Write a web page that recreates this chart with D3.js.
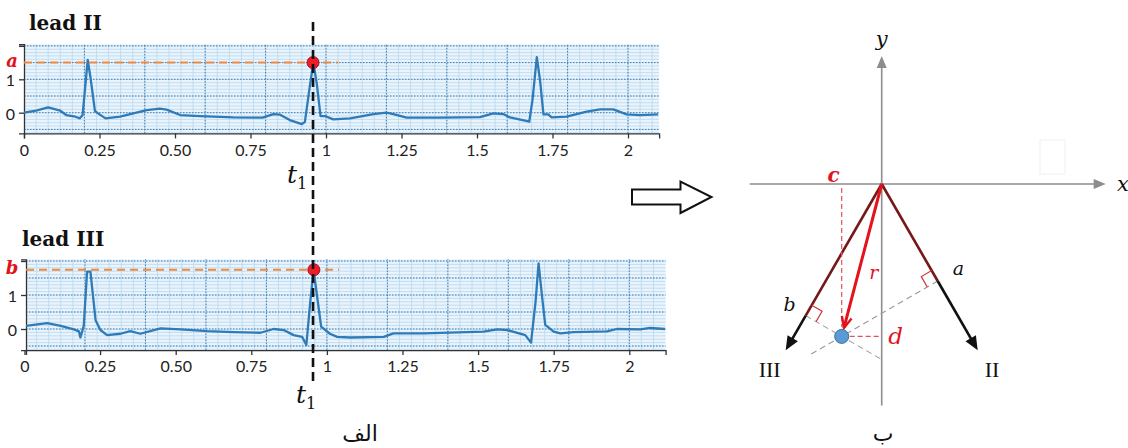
<!DOCTYPE html>
<html>
<head>
<meta charset="utf-8">
<script src="https://cdn.jsdelivr.net/npm/d3@7"></script>
<style>
  body { margin: 0; background: #fff; }
  svg { display: block; }
</style>
</head>
<body>
<svg id="fig" width="1128" height="448"></svg>
<script>
// ---- data ----
const timeTicks = [0, 0.25, 0.5, 0.75, 1, 1.25, 1.5, 1.75, 2];
const timeTickLabels = ["0", "0.25", "0.50", "0.75", "1", "1.25", "1.5", "1.75", "2"];
const voltTicks = [0, 1, 2];
const voltTickLabels = ["0", "1", ""];

const leadIITime = [0, 0.04, 0.08, 0.12, 0.14, 0.17, 0.185, 0.194, 0.211, 0.221, 0.235, 0.245, 0.27, 0.318,
  0.362, 0.406, 0.45, 0.472, 0.517, 0.583, 0.693, 0.79, 0.826, 0.848, 0.88, 0.92, 0.93, 0.945, 0.958,
  0.969, 0.982, 0.997, 1.024, 1.08, 1.157, 1.2, 1.223, 1.267, 1.377, 1.51, 1.554, 1.587, 1.609, 1.659,
  1.673, 1.684, 1.698, 1.709, 1.72, 1.736, 1.747, 1.797, 1.863, 1.907, 1.951, 1.996, 2.04, 2.1];
const leadIIVolt = [0, 0.06, 0.16, 0.06, -0.07, -0.12, -0.17, -0.07, 1.58, 1.0, 0.05, -0.02, -0.17, -0.12,
  -0.02, 0.08, 0.12, 0.09, -0.07, -0.1, -0.14, -0.15, -0.04, -0.06, -0.22, -0.34, -0.28, 0.7, 1.5,
  0.9, -0.1, -0.1, -0.2, -0.17, -0.04, 0, -0.04, -0.15, -0.15, -0.13, -0.02, -0.04, -0.14, -0.24,
  -0.27, 0.4, 1.66, 0.95, -0.05, -0.05, -0.14, -0.12, 0.03, 0.1, 0.1, -0.05, -0.07, -0.05];

const leadIIITime = [0.005, 0.075, 0.12, 0.163, 0.18, 0.185, 0.196, 0.207, 0.218, 0.235, 0.251, 0.273, 0.317,
  0.35, 0.383, 0.45, 0.516, 0.604, 0.692, 0.78, 0.824, 0.857, 0.89, 0.918, 0.932, 0.945, 0.956, 0.967,
  0.981, 1.01, 1.034, 1.078, 1.188, 1.22, 1.32, 1.518, 1.563, 1.596, 1.656, 1.675, 1.69, 1.7, 1.711,
  1.722, 1.75, 1.772, 1.816, 1.926, 1.959, 2.036, 2.069, 2.118];
const leadIIIVolt = [0.09, 0.17, 0.09, -0.01, -0.07, -0.25, 0.1, 1.69, 1.69, 0.26, -0.03, -0.18, -0.14,
  -0.06, -0.14, 0.02, -0.01, -0.06, -0.09, -0.11, 0, -0.03, -0.18, -0.23, -0.47, 0.8, 1.74, 1.0,
  0.07, -0.14, -0.23, -0.25, -0.23, -0.13, -0.13, -0.08, -0.01, -0.03, -0.18, -0.4, 0.8, 1.93, 1.0,
  0.12, -0.08, -0.13, -0.09, -0.07, 0, -0.01, 0.03, 0];

const t1 = 0.957;      // sampled instant
const peakA = 1.5;     // lead II value at t1
const peakB = 1.74;    // lead III value at t1

// vector diagram (own units)
const leadNames = ["II", "III"];
const leadAngles = [60, 120];     // degrees, y pointing down
const projections = [1.4, 1.9];   // a, b as drawn
const leadLength = 2.4;

const svg = d3.select("#fig");
const serif = "'DejaVu Serif', 'Liberation Serif', serif";
const sans = "Lato, 'Noto Sans', sans-serif";

// ---- ECG strip ----
function drawStrip(cfg) {
  const x = d3.scaleLinear().domain([0, 2]).range(cfg.xRange);
  const y = d3.scaleLinear().domain([0, 1]).range(cfg.yRange);
  const [tA, tB] = cfg.tSpan, [vA, vB] = cfg.vSpan;
  const g = svg.append("g");

  g.append("rect")
    .attr("x", x(tA)).attr("y", y(vB))
    .attr("width", x(tB) - x(tA)).attr("height", y(vA) - y(vB))
    .attr("fill", "#eaf4fc");

  const minorT = d3.range(0.04, tB, 0.04);
  const minorV = d3.range(-0.6, vB, 0.1);
  g.selectAll(".mt").data(minorT).join("line")
    .attr("x1", d => x(d)).attr("x2", d => x(d))
    .attr("y1", y(vA)).attr("y2", y(vB))
    .attr("stroke", "#b8d8ef").attr("stroke-width", 0.8);
  g.selectAll(".mv").data(minorV).join("line")
    .attr("x1", x(tA)).attr("x2", x(tB))
    .attr("y1", d => y(d)).attr("y2", d => y(d))
    .attr("stroke", "#b8d8ef").attr("stroke-width", 0.8);

  const majorT = d3.range(0.2, tB, 0.2);
  const majorV = d3.range(-0.5, vB + 0.01, 0.5);
  g.selectAll(".Mt").data(majorT).join("line")
    .attr("x1", d => x(d)).attr("x2", d => x(d))
    .attr("y1", y(vA)).attr("y2", y(vB))
    .attr("stroke", "#3f7db3").attr("stroke-width", 1).attr("stroke-dasharray", "1.5,1.5");
  g.selectAll(".Mv").data(majorV).join("line")
    .attr("x1", x(tA)).attr("x2", x(tB))
    .attr("y1", d => y(d)).attr("y2", d => y(d))
    .attr("stroke", "#3f7db3").attr("stroke-width", 1).attr("stroke-dasharray", "1.5,1.5");

  // axes
  const xAxisScale = d3.scaleLinear().domain([tA, tB]).range([x(tA), x(tB)]);
  const yAxisScale = d3.scaleLinear().domain([vA, vB]).range([y(vA), y(vB)]);
  const xa = g.append("g")
    .attr("transform", `translate(0,${y(vA)})`)
    .call(d3.axisBottom(xAxisScale).tickValues(timeTicks)
      .tickFormat((d, i) => timeTickLabels[i]).tickSizeOuter(0).tickSize(5).tickPadding(6));
  const ya = g.append("g")
    .attr("transform", `translate(${x(tA)},0)`)
    .call(d3.axisLeft(yAxisScale).tickValues(voltTicks)
      .tickFormat((d, i) => voltTickLabels[i]).tickSizeOuter(0).tickSize(5).tickPadding(4));
  [xa, ya].forEach(a => {
    a.selectAll("path, line").attr("stroke", "#333").attr("stroke-width", 1.3);
    a.selectAll("text").attr("font-family", sans).attr("font-size", 16).attr("fill", "#222");
  });
  ya.selectAll("text").attr("dy", "0.4em");

  // signal
  const pts = cfg.time.map((t, i) => [t, cfg.volt[i]]);
  g.append("path").datum(pts)
    .attr("fill", "none").attr("stroke", "#2f7bb8").attr("stroke-width", 2.3)
    .attr("stroke-linejoin", "round")
    .attr("d", d3.line().x(d => x(d[0])).y(d => y(d[1])));

  // level at t1
  g.append("line")
    .attr("x1", x(tA)).attr("x2", x(1.04))
    .attr("y1", y(cfg.peak)).attr("y2", y(cfg.peak))
    .attr("stroke", "#f08a3c").attr("stroke-width", 2).attr("stroke-dasharray", "8,5");
  g.append("circle")
    .attr("cx", x(t1)).attr("cy", y(cfg.peak)).attr("r", 6)
    .attr("fill", "#ee1c25").attr("stroke", "#9c1030").attr("stroke-width", 1);
  g.append("text")
    .attr("x", 12).attr("y", y(cfg.peak) + 4)
    .attr("text-anchor", "middle")
    .attr("font-family", serif).attr("font-style", "italic").attr("font-weight", "bold")
    .attr("font-size", 18).attr("fill", "#e0141c")
    .text(cfg.peakLabel);

  g.append("text")
    .attr("x", cfg.titleX).attr("y", cfg.titleY)
    .attr("font-family", serif).attr("font-weight", "bold").attr("font-size", 20)
    .attr("fill", "#111")
    .text(cfg.title);
  return x;
}

const xTop = drawStrip({
  xRange: [24, 628], yRange: [112.7, 79.3], tSpan: [0, 2.103], vSpan: [-0.62, 2.05],
  time: leadIITime, volt: leadIIVolt, peak: peakA, peakLabel: "a",
  title: "lead II", titleX: 29, titleY: 30
});
drawStrip({
  xRange: [24.5, 629.3], yRange: [329, 295], tSpan: [0.005, 2.12], vSpan: [-0.62, 2.05],
  time: leadIIITime, volt: leadIIIVolt, peak: peakB, peakLabel: "b",
  title: "lead III", titleX: 22, titleY: 246
});

// t1 marker
svg.append("line")
  .attr("x1", xTop(t1)).attr("x2", xTop(t1))
  .attr("y1", 22).attr("y2", 385)
  .attr("stroke", "#111").attr("stroke-width", 2.6).attr("stroke-dasharray", "9,5");
function tLabel(xp, yp) {
  const t = svg.append("text").attr("x", xp).attr("y", yp)
    .attr("font-family", serif).attr("fill", "#111");
  t.append("tspan").attr("font-style", "italic").attr("font-size", 25).text("t");
  t.append("tspan").attr("font-size", 16).attr("dy", 6).text("1");
}
tLabel(287, 183);
tLabel(296, 403);

// panel captions
svg.append("text").attr("x", 360).attr("y", 441).attr("text-anchor", "middle")
  .attr("font-family", "'DejaVu Sans', sans-serif").attr("font-size", 22).attr("fill", "#111")
  .text("الف");
svg.append("text").attr("x", 883).attr("y", 441).attr("text-anchor", "middle")
  .attr("font-family", "'DejaVu Sans', sans-serif").attr("font-size", 22).attr("fill", "#111")
  .text("ب");

// hollow arrow between panels
svg.append("path")
  .attr("d", "M632,189.5 L680.5,189.5 L680.5,181.5 L711.5,197 L680.5,213 L680.5,204.5 L632,204.5 Z")
  .attr("fill", "#fff").attr("stroke", "#111").attr("stroke-width", 2).attr("stroke-linejoin", "miter");

// ---- vector diagram ----
const k = 80;
const vx = d3.scaleLinear().domain([0, 1]).range([881.7, 881.7 + k]);
const vy = d3.scaleLinear().domain([0, 1]).range([184, 184 + k]);
const dg = svg.append("g");

function arrowHead(g, x0, y0, x1, y1, len, half, color, filled) {
  const ang = Math.atan2(y1 - y0, x1 - x0);
  const bx = x1 - len * Math.cos(ang), by = y1 - len * Math.sin(ang);
  const px = -Math.sin(ang) * half, py = Math.cos(ang) * half;
  if (filled) {
    g.append("path").attr("d", `M${x1},${y1} L${bx + px},${by + py} L${bx - px},${by - py} Z`)
      .attr("fill", color);
  } else {
    g.append("path").attr("d", `M${bx + px},${by + py} L${x1},${y1} L${bx - px},${by - py}`)
      .attr("fill", "none").attr("stroke", color).attr("stroke-width", 2.4);
  }
}

// coordinate axes
dg.append("line").attr("x1", vx(-1.65)).attr("x2", vx(2.66)).attr("y1", vy(0)).attr("y2", vy(0))
  .attr("stroke", "#8d8d8d").attr("stroke-width", 1.6);
arrowHead(dg, vx(0), vy(0), vx(2.8), vy(0), 12, 5, "#8d8d8d", true);
dg.append("line").attr("x1", vx(0)).attr("x2", vx(0)).attr("y1", vy(2.77)).attr("y2", vy(-1.45))
  .attr("stroke", "#8d8d8d").attr("stroke-width", 1.6);
arrowHead(dg, vx(0), vy(0), vx(0), vy(-1.6), 12, 5, "#8d8d8d", true);
dg.append("text").attr("x", vx(0)).attr("y", 46).attr("text-anchor", "middle")
  .attr("font-family", serif).attr("font-style", "italic").attr("font-size", 21).attr("fill", "#111").text("y");
dg.append("text").attr("x", 1123).attr("y", 191).attr("text-anchor", "middle")
  .attr("font-family", serif).attr("font-style", "italic").attr("font-size", 21).attr("fill", "#111").text("x");
dg.append("rect").attr("x", 1040).attr("y", 140).attr("width", 25).attr("height", 34)
  .attr("fill", "none").attr("stroke", "#f0f0f0").attr("stroke-width", 1);

// resultant vector from the two projections
const u = leadAngles.map(a => [Math.cos(a * Math.PI / 180), Math.sin(a * Math.PI / 180)]);
const rx = projections[0] - projections[1];
const ry = (projections[0] + projections[1]) / (2 * Math.sin(60 * Math.PI / 180));

// projection construction lines (foot on the lead, through the tip of r, a bit beyond)
const overshoot = [0.45, 0.6];
leadNames.forEach((name, i) => {
  const p = [projections[i] * u[i][0], projections[i] * u[i][1]];
  const dir = [rx - p[0], ry - p[1]];
  const len = Math.hypot(dir[0], dir[1]);
  const f = (len + overshoot[i]) / len;
  dg.append("line")
    .attr("x1", vx(p[0])).attr("y1", vy(p[1]))
    .attr("x2", vx(p[0] + dir[0] * f)).attr("y2", vy(p[1] + dir[1] * f))
    .attr("stroke", "#9a9a9a").attr("stroke-width", 1.1).attr("stroke-dasharray", "6,4");
});

// leads
leadNames.forEach((name, i) => {
  const p = [projections[i] * u[i][0], projections[i] * u[i][1]];
  const tip = [leadLength * u[i][0], leadLength * u[i][1]];
  dg.append("line").attr("x1", vx(0)).attr("y1", vy(0)).attr("x2", vx(p[0])).attr("y2", vy(p[1]))
    .attr("stroke", "#761818").attr("stroke-width", 2.6);
  const endX = tip[0] - 0.1 * u[i][0], endY = tip[1] - 0.1 * u[i][1];
  dg.append("line").attr("x1", vx(p[0])).attr("y1", vy(p[1])).attr("x2", vx(endX)).attr("y2", vy(endY))
    .attr("stroke", "#111").attr("stroke-width", 2.6);
  arrowHead(dg, vx(0), vy(0), vx(tip[0]), vy(tip[1]), 14, 6, "#111", true);

  // right-angle mark
  const s = 0.15;
  const perp = i === 0 ? [-u[i][1], u[i][0]] : [u[i][1], -u[i][0]];
  const q1 = [p[0] - s * u[i][0], p[1] - s * u[i][1]];
  const q2 = [q1[0] + s * perp[0], q1[1] + s * perp[1]];
  const q3 = [p[0] + s * perp[0], p[1] + s * perp[1]];
  dg.append("path")
    .attr("d", d3.line().x(d => vx(d[0])).y(d => vy(d[1]))([q1, q2, q3]))
    .attr("fill", "none").attr("stroke", "#d2303e").attr("stroke-width", 1.2);

  // labels
  const labelOff = i === 0 ? [0.26, -0.08] : [-0.2, -0.06];
  dg.append("text").attr("x", vx(p[0] + labelOff[0])).attr("y", vy(p[1] + labelOff[1]))
    .attr("text-anchor", "middle").attr("font-family", serif).attr("font-style", "italic")
    .attr("font-size", 19).attr("fill", "#111").text(i === 0 ? "a" : "b");
  dg.append("text").attr("x", vx(tip[0] + (i === 0 ? 0.18 : -0.2))).attr("y", vy(tip[1] + 0.34))
    .attr("text-anchor", "middle").attr("font-family", "'Liberation Serif', serif")
    .attr("font-size", 22).attr("fill", "#111").text(name);
});

// c and d guides
dg.append("line").attr("x1", vx(rx)).attr("x2", vx(rx)).attr("y1", vy(0.05)).attr("y2", vy(ry - 0.12))
  .attr("stroke", "#e5505c").attr("stroke-width", 1.2).attr("stroke-dasharray", "5,3");
dg.append("line").attr("x1", vx(rx + 0.1)).attr("x2", vx(0)).attr("y1", vy(ry)).attr("y2", vy(ry))
  .attr("stroke", "#e5505c").attr("stroke-width", 1.2).attr("stroke-dasharray", "5,3");
dg.append("text").attr("x", vx(rx) - 8).attr("y", vy(0) - 2).attr("text-anchor", "middle")
  .attr("font-family", serif).attr("font-style", "italic").attr("font-weight", "bold")
  .attr("font-size", 20).attr("fill", "#e0141c").text("c");
dg.append("text").attr("x", vx(0) + 14).attr("y", vy(ry) + 8).attr("text-anchor", "middle")
  .attr("font-family", serif).attr("font-style", "italic")
  .attr("font-size", 23).attr("fill", "#e0141c").text("d");

// resultant r
const rl = Math.hypot(rx, ry);
const rEnd = [rx * (1 - 0.11 / rl), ry * (1 - 0.11 / rl)];
dg.append("line").attr("x1", vx(0)).attr("y1", vy(0)).attr("x2", vx(rEnd[0])).attr("y2", vy(rEnd[1]))
  .attr("stroke", "#e3121b").attr("stroke-width", 3);
arrowHead(dg, vx(0), vy(0), vx(rEnd[0]), vy(rEnd[1]), 11, 5, "#e3121b", false);
dg.append("text").attr("x", vx(rx * 0.55) + 14).attr("y", vy(ry * 0.62))
  .attr("text-anchor", "middle").attr("font-family", serif).attr("font-style", "italic")
  .attr("font-size", 19).attr("fill", "#e0141c").text("r");
dg.append("circle").attr("cx", vx(rx)).attr("cy", vy(ry)).attr("r", 7)
  .attr("fill", "#5b9bd5").attr("stroke", "#3a6f9f").attr("stroke-width", 1);
</script>
</body>
</html>
